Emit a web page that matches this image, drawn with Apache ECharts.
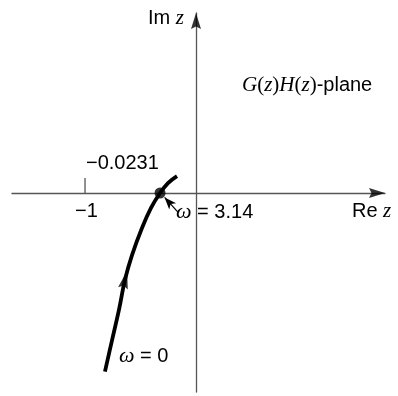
<!DOCTYPE html>
<html>
<head>
<meta charset="utf-8">
<script src="https://cdn.jsdelivr.net/npm/echarts@6/dist/echarts.min.js"></script>
<style>
  html, body { margin: 0; padding: 0; background: #fff; }
  #chart { width: 398px; height: 396px; }
</style>
</head>
<body>
<div id="chart"></div>
<script>
// Polar (Nyquist) sketch of G(z)H(z); the locus is drawn schematically, not to scale.
const reTicks = [-1];
const crossingRe = -0.0231;      // real-axis crossing of the locus
const crossingOmega = 3.14;
const startOmega = 0;

// locus of G(e^{jωT})H(e^{jωT}) from ω = 0 upward to just past ω = 3.14
const locusRe = [-0.0585, -0.0540, -0.0495, -0.0456, -0.0411, -0.0347, -0.0289, -0.0231, -0.0180, -0.0122];
const locusIm = [-0.1148, -0.0948, -0.0751, -0.0556, -0.0399, -0.0225, -0.0096, 0.0000, 0.0064, 0.0109];
const arrowIndex = 3;

const SANS = '"Liberation Sans", Arial, sans-serif';
const SERIF = '"Liberation Serif", "Times New Roman", serif';
const AXIS = '#555';
const INK = '#000';
const HEAD = 'path://M5,0 L10,16 L5,13.5 L0,16 Z';

const X_RANGE = [-1.658, 1.703];
const Y_RANGE = [-1.793, 1.622];

const locus = locusRe.map((r, i) => [r, locusIm[i]]);
const fmt = v => String(v).replace('-', '\u2212');

const chart = echarts.init(document.getElementById('chart'), null, { renderer: 'canvas' });

const plainAxis = (range) => ({
  type: 'value', min: range[0], max: range[1],
  axisLine: { onZero: true, onZeroAxisIndex: 0, lineStyle: { color: AXIS, width: 1.3 } },
  axisTick: { show: false }, axisLabel: { show: false }, splitLine: { show: false }
});
const hiddenAxis = (min, max) => ({ type: 'value', min, max, show: false, splitLine: { show: false } });

const a0 = locus[arrowIndex - 1], a1 = locus[arrowIndex + 1];

const serifRich = (size) => ({ fontFamily: SERIF, fontStyle: 'italic', fontSize: size, fill: INK });
const sansRich = (size) => ({ fontFamily: SANS, fontSize: size, fill: INK });

chart.setOption({
  animation: false,
  grid: { left: 12, right: 13, top: 13, bottom: 4 },
  xAxis: [plainAxis(X_RANGE), hiddenAxis(-0.11821, 0.12142)],
  yAxis: [plainAxis(Y_RANGE), hiddenAxis(-0.12784, 0.11565)],
  series: [
    {
      // tick mark at Re z = -1
      type: 'line', xAxisIndex: 0, yAxisIndex: 0, symbol: 'none', silent: true,
      data: [[reTicks[0], 0], [reTicks[0], 0.135]],
      lineStyle: { color: AXIS, width: 1.3 }
    },
    {
      // arrowheads closing the two axes
      type: 'scatter', xAxisIndex: 0, yAxisIndex: 0, silent: true, clip: false,
      symbol: HEAD, symbolSize: [10, 16], symbolKeepAspect: false, itemStyle: { color: INK },
      data: [
        { value: [X_RANGE[1], 0], symbolRotate: -90, symbolOffset: [-8, 0] },
        { value: [0, Y_RANGE[1]], symbolRotate: 0, symbolOffset: [0, 8] }
      ]
    },
    {
      type: 'line', xAxisIndex: 1, yAxisIndex: 1, smooth: 0.4, symbol: 'none',
      data: locus, lineStyle: { color: INK, width: 3.8 }
    },
    {
      type: 'scatter', xAxisIndex: 1, yAxisIndex: 1,
      data: [[crossingRe, 0]], symbol: 'circle', symbolSize: 11,
      itemStyle: { color: INK }
    },
    {
      type: 'scatter', xAxisIndex: 1, yAxisIndex: 1,
      data: [locus[arrowIndex]], symbol: HEAD, symbolSize: [10, 18],
      symbolRotate: 0, itemStyle: { color: INK }
    },
    {
      // pointer from the ω = 3.14 label to the crossing point
      type: 'line', xAxisIndex: 0, yAxisIndex: 0, symbol: 'none', silent: true,
      data: [],
      markLine: {
        silent: true, animation: false,
        lineStyle: { color: INK, width: 1.2, type: 'solid' },
        label: { show: false },
        data: [[
          { coord: [-0.165, -0.17], symbol: 'none' },
          { coord: [-0.283, -0.04], symbol: 'arrow', symbolSize: [7, 12] }
        ]]
      }
    }
  ],
  graphic: [
    { type: 'text', left: 148, top: 8,
      style: { text: '{a|Im }{b|z}', rich: { a: sansRich(20), b: serifRich(21) } } },
    { type: 'text', left: 352, top: 201,
      style: { text: '{a|Re }{b|z}', rich: { a: sansRich(20), b: serifRich(21) } } },
    { type: 'text', left: 242, top: 75,
      style: { text: '{b|G}{a|(}{b|z}{a|)}{b|H}{a|(}{b|z}{a|)}{c|-plane}', rich: {
        a: { fontFamily: SERIF, fontSize: 21, fill: INK }, b: serifRich(21), c: sansRich(20) } } },
    { type: 'text', left: 86, top: 153,
      style: { text: fmt(crossingRe), font: '20px ' + SANS, fill: INK } },
    { type: 'text', left: 75, top: 201,
      style: { text: fmt(reTicks[0]), font: '20px ' + SANS, fill: INK } },
    { type: 'text', left: 176, top: 201,
      style: { text: '{b|\u03c9}{a| = ' + crossingOmega + '}', rich: { a: sansRich(20), b: serifRich(22) } } },
    { type: 'text', left: 119, top: 345,
      style: { text: '{b|\u03c9}{a| = ' + startOmega + '}', rich: { a: sansRich(20), b: serifRich(22) } } }
  ]
});

// orient the direction arrow along the locus
const p0 = chart.convertToPixel({ xAxisIndex: 1, yAxisIndex: 1 }, a0);
const p1 = chart.convertToPixel({ xAxisIndex: 1, yAxisIndex: 1 }, a1);
const ang = Math.atan2(p1[0] - p0[0], p0[1] - p1[1]) * 180 / Math.PI;
chart.setOption({ series: [{}, {}, {}, {}, { symbolRotate: -ang }] });
</script>
</body>
</html>
